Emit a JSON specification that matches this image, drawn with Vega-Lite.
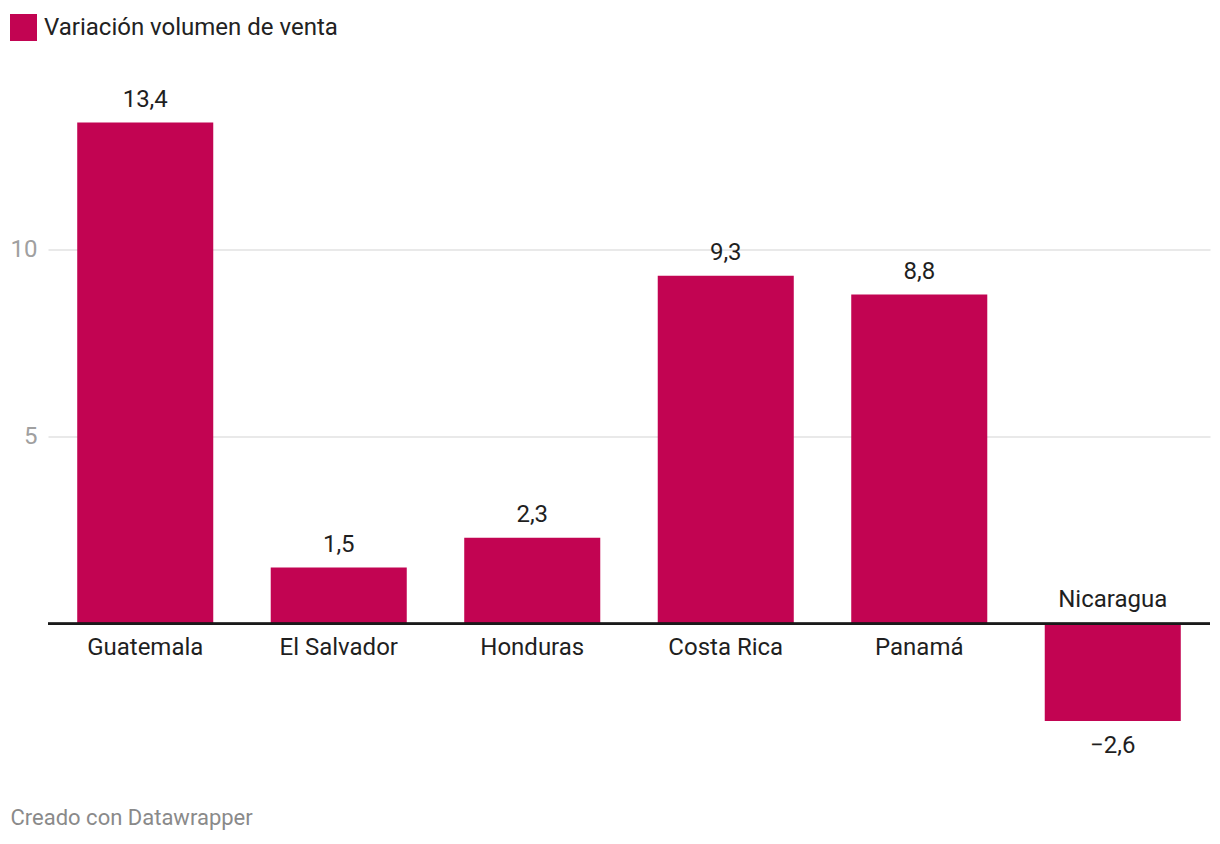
{
  "$schema": "https://vega.github.io/schema/vega-lite/v6.json",
  "autosize": {"type": "none"},
  "width": 1162,
  "height": 598.4,
  "padding": {"left": 48, "top": 122.5, "right": 10, "bottom": 123.1},
  "background": "#ffffff",
  "config": {
    "font": "Roboto",
    "view": {"stroke": null},
    "locale": {"number": {"decimal": ",", "thousands": ".", "grouping": [3], "currency": ["", " €"]}}
  },
  "data": {
    "values": [
      {"pais": "Guatemala", "valor": 13.4},
      {"pais": "El Salvador", "valor": 1.5},
      {"pais": "Honduras", "valor": 2.3},
      {"pais": "Costa Rica", "valor": 9.3},
      {"pais": "Panamá", "valor": 8.8},
      {"pais": "Nicaragua", "valor": -2.6}
    ]
  },
  "encoding": {
    "x": {
      "field": "pais",
      "type": "nominal",
      "sort": null,
      "scale": {"paddingInner": 0.297, "paddingOuter": 0.151},
      "axis": {
        "title": "Creado con Datawrapper",
        "labels": false,
        "ticks": false,
        "domain": false,
        "grid": false,
        "titleX": -38,
        "titleY": 97,
        "titleAlign": "left",
        "titleAnchor": null,
        "titleBaseline": "middle",
        "titleFontWeight": "normal",
        "titleFontSize": 22,
        "titleColor": "#8a8a8a",
        "titleFont": "Roboto"
      }
    }
  },
  "layer": [
    {
      "mark": {"type": "bar"},
      "encoding": {
        "y": {
          "field": "valor",
          "type": "quantitative",
          "scale": {"domain": [-2.6, 13.4], "nice": false, "zero": false},
          "axis": {
            "title": null,
            "values": [5, 10],
            "domain": false,
            "ticks": false,
            "grid": true,
            "gridColor": "#e2e2e2",
            "gridWidth": 1.5,
            "labelColor": "#a0a0a0",
            "labelFontSize": 24,
            "labelFont": "Roboto",
            "labelPadding": 11
          }
        },
        "color": {
          "datum": "Variación volumen de venta",
          "type": "nominal",
          "scale": {"range": ["#c20452"]},
          "legend": {
            "title": null,
            "orient": "none",
            "legendX": -38,
            "legendY": -108.5,
            "symbolType": "square",
            "symbolSize": 729,
            "symbolStrokeWidth": 0,
            "symbolOpacity": 1,
            "labelFontSize": 24,
            "labelFont": "Roboto",
            "labelColor": "#222222",
            "labelOffset": 7,
            "labelLimit": 0,
            "padding": 0
          }
        }
      }
    },
    {
      "mark": {"type": "rule", "color": "#1a1a1a", "strokeWidth": 2},
      "encoding": {"y": {"datum": 0, "type": "quantitative"}, "x": {"value": 0}, "x2": {"value": 1162}}
    },
    {
      "transform": [{"filter": "datum.valor >= 0"}],
      "mark": {"type": "text", "baseline": "middle", "dy": -23, "fontSize": 24, "color": "#1f1f1f", "font": "Roboto"},
      "encoding": {
        "y": {"field": "valor", "type": "quantitative"},
        "text": {"field": "valor", "type": "quantitative", "format": ".1f"}
      }
    },
    {
      "transform": [{"filter": "datum.valor < 0"}],
      "mark": {"type": "text", "baseline": "middle", "dy": 25, "fontSize": 24, "color": "#1f1f1f", "font": "Roboto"},
      "encoding": {
        "y": {"field": "valor", "type": "quantitative"},
        "text": {"field": "valor", "type": "quantitative", "format": ".1f"}
      }
    },
    {
      "transform": [{"filter": "datum.valor >= 0"}],
      "mark": {"type": "text", "baseline": "middle", "dy": 24, "fontSize": 24, "color": "#1f1f1f", "font": "Roboto"},
      "encoding": {
        "y": {"datum": 0, "type": "quantitative"},
        "text": {"field": "pais", "type": "nominal"}
      }
    },
    {
      "transform": [{"filter": "datum.valor < 0"}],
      "mark": {"type": "text", "baseline": "middle", "dy": -24, "fontSize": 24, "color": "#1f1f1f", "font": "Roboto"},
      "encoding": {
        "y": {"datum": 0, "type": "quantitative"},
        "text": {"field": "pais", "type": "nominal"}
      }
    }
  ]
}
